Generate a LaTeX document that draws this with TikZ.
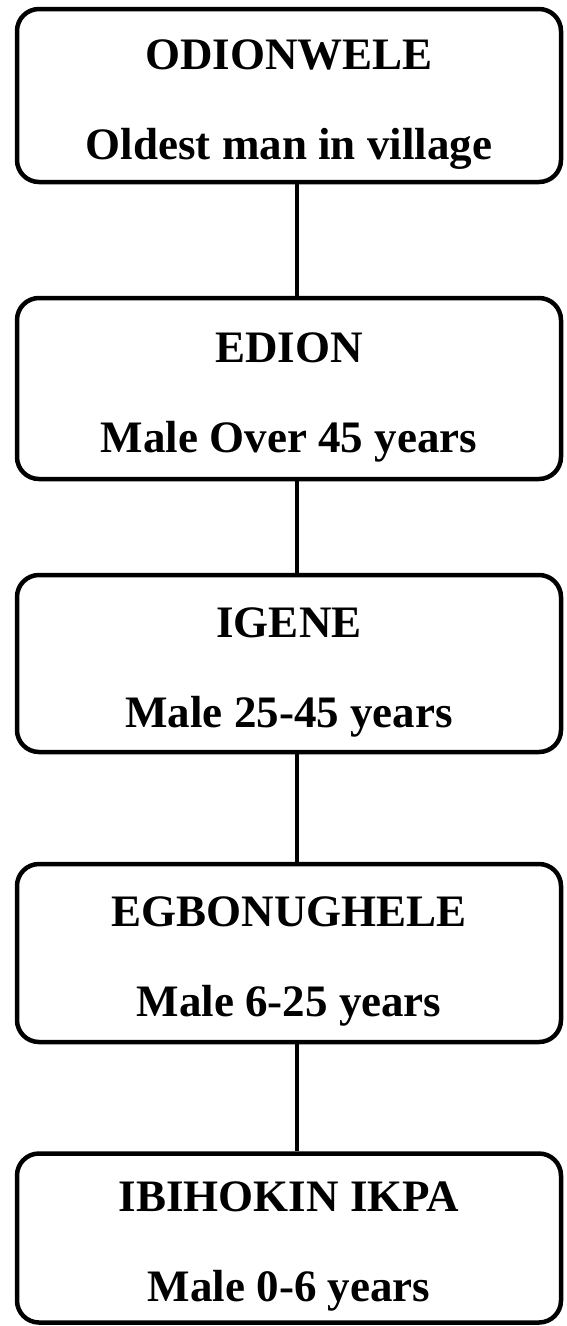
\documentclass[tikz,border=0pt]{standalone}
\usepackage{fontspec}
\setmainfont{Liberation Serif}
\usetikzlibrary{positioning}

\newcommand{\toppad}{\rule{0pt}{47pt}}

\tikzset{
  agebox/.style={draw,line width=4.5pt,rounded corners=22pt,minimum width=544pt,
    align=center,inner sep=0pt,font=\fontsize{45}{90}\selectfont\bfseries},
  link/.style={line width=4pt}
}

\begin{document}
\begin{tikzpicture}[node distance=285pt]
    \useasboundingbox (0,0) rectangle (566pt,-1326pt);

    %% age grades
    \node[agebox,minimum height=173pt] (odion) at (289pt,-95.5pt) {\toppad ODIONWELE\\Oldest man in village};
    \node[agebox,minimum height=181pt,below of=odion,yshift=-8pt] (edion) {\toppad EDION\\Male Over 45 years};
    \node[agebox,minimum height=177pt,below of=edion,yshift=10pt] (igene) {\toppad IGENE\\Male 25-45 years};
    \node[agebox,minimum height=178pt,below of=igene,yshift=-4.5pt] (egbon) {\toppad EGBONUGHELE\\Male 6-25 years};
    \node[agebox,minimum height=169pt,below of=egbon] (ibiho) {\toppad IBIHOKIN IKPA\\Male 0-6 years};

    %% links
    \draw[link] ([xshift=8pt]odion.south) -- ([xshift=8pt]edion.north);
    \draw[link] ([xshift=8pt]edion.south) -- ([xshift=8pt]igene.north);
    \draw[link] ([xshift=8pt]igene.south) -- ([xshift=8pt]egbon.north);
    \draw[link] ([xshift=8pt]egbon.south) -- ([xshift=8pt]ibiho.north);
  \end{tikzpicture}
\end{document}
